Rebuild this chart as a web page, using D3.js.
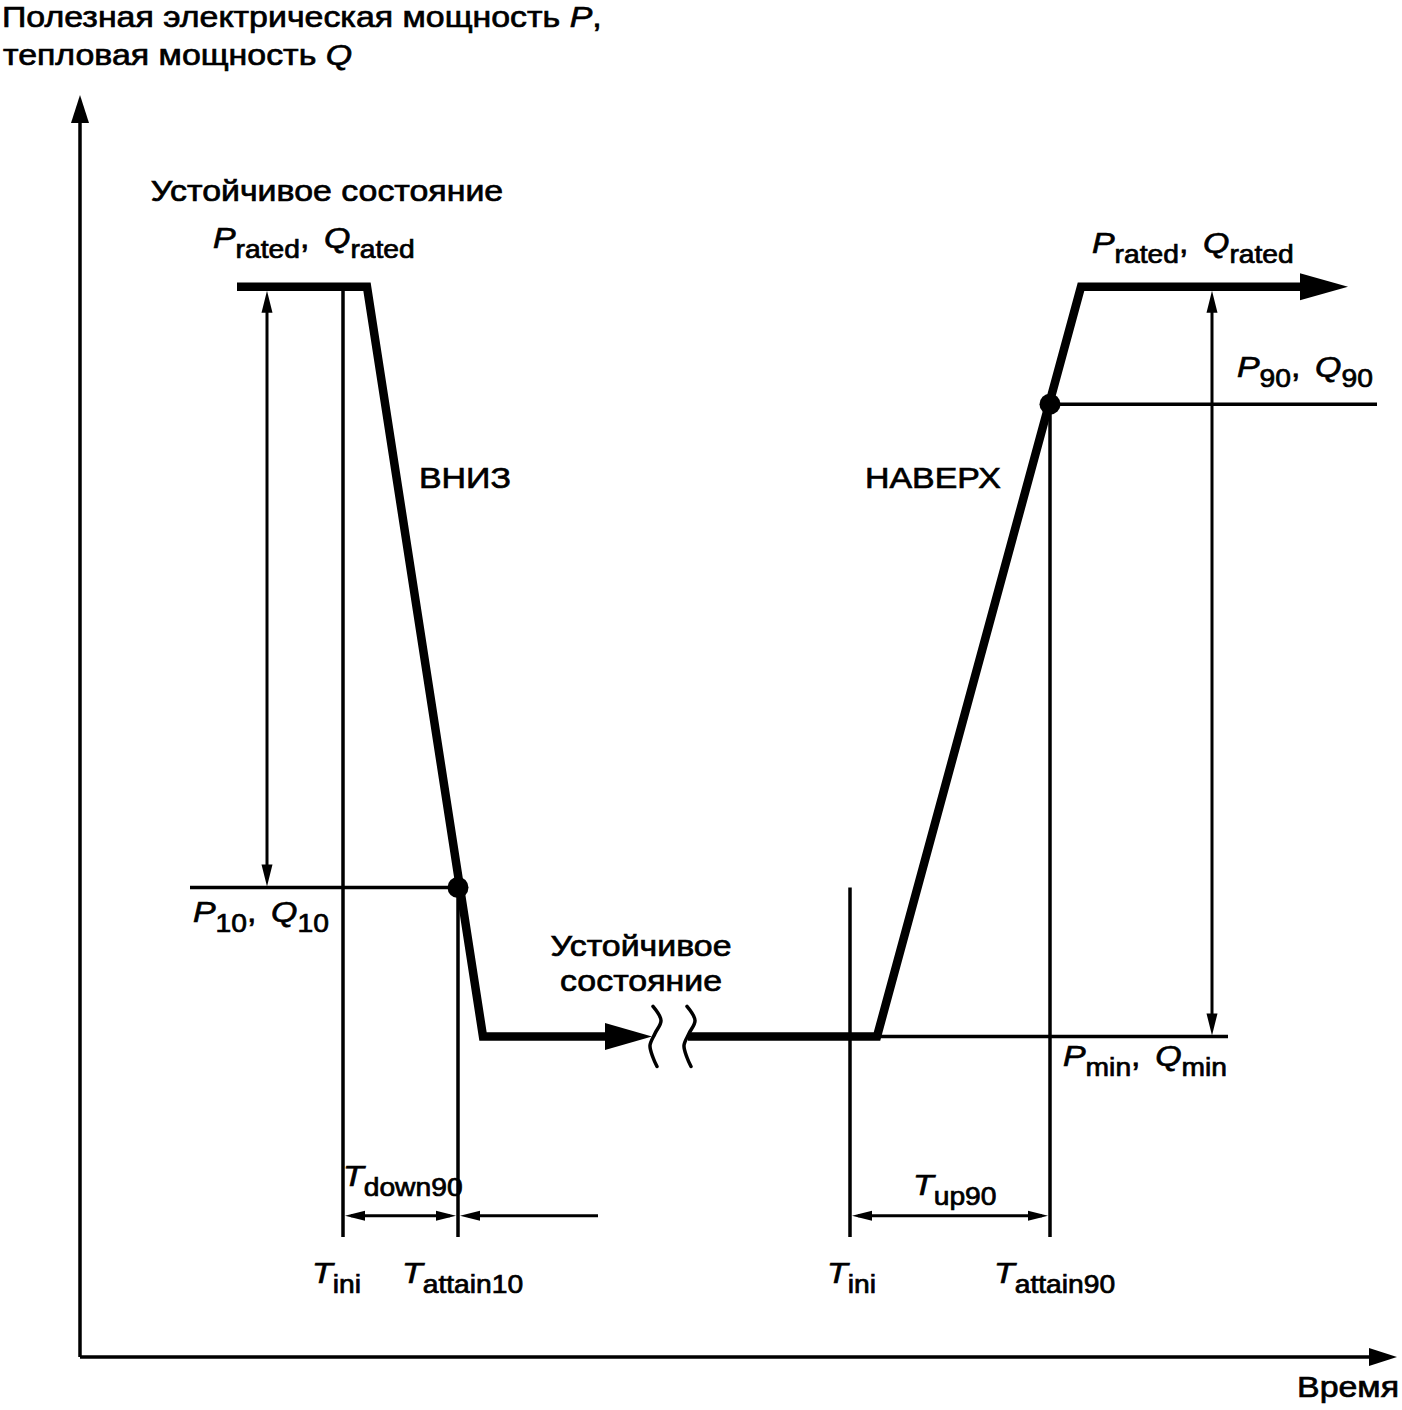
<!DOCTYPE html>
<html>
<head>
<meta charset="utf-8">
<script src="https://cdn.jsdelivr.net/npm/d3@7/dist/d3.min.js"></script>
<style>
body { margin: 0; background: #fff; }
text { font-family: "Liberation Sans", Arial, sans-serif; fill: #000; }
</style>
</head>
<body>
<script>
////////// data (schematic units) //////////
// power levels, in % of the vertical axis
var levelNames  = ['rated', 'p90', 'p10', 'min'];
var levelValues = [84.8, 75.5, 37.2, 25.4];

// time marks, in axis units
var markNames  = ['ini1', 'attain10', 'ini2', 'attain90'];
var markValues = [26.3, 37.8, 77.0, 97.0];

// thick profile: ramp down (before the break) and ramp up (after it)
var downTimes  = [15.7, 28.7, 40.3, 57.2];
var downLevels = ['rated', 'rated', 'min', 'min'];
var upTimes    = [60.8, 79.7, 100.1, 126.8];
var upLevels   = ['min', 'min', 'rated', 'rated'];

// break in the time axis
var breakTimes = [57.4, 60.8];

// extents of the helper lines
var p10LineStart = 11.0;
var p90LineEnd   = 129.7;
var minLineEnd   = 114.8;
var guideBottom  = 9.5;
var dimLevel     = 11.2;
var dimTail      = 51.8;
var arrowTimes   = [18.7, 113.2];

function lvl(n) { return levelValues[levelNames.indexOf(n)]; }
function mark(n) { return markValues[markNames.indexOf(n)]; }

////////// scales //////////
var x = d3.scaleLinear().domain([0, 131.7]).range([80, 1397]);
var y = d3.scaleLinear().domain([0, 100]).range([1357, 95]);

var svg = d3.select('body').append('svg')
  .attr('width', 1402)
  .attr('height', 1410);

svg.append('rect')
  .attr('width', 1402)
  .attr('height', 1410)
  .style('fill', '#fff');

var thin = 3.5;

function seg(x1, y1, x2, y2, w) {
  svg.append('line')
    .attr('x1', x1).attr('y1', y1)
    .attr('x2', x2).attr('y2', y2)
    .style('stroke', '#000')
    .style('stroke-width', w || thin);
}

// filled triangle with its tip at (tx,ty)
function head(tx, ty, dir, len, hw) {
  var p;
  if (dir == 'up')    p = [[tx, ty], [tx - hw, ty + len], [tx + hw, ty + len]];
  if (dir == 'down')  p = [[tx, ty], [tx - hw, ty - len], [tx + hw, ty - len]];
  if (dir == 'left')  p = [[tx, ty], [tx + len, ty - hw], [tx + len, ty + hw]];
  if (dir == 'right') p = [[tx, ty], [tx - len, ty - hw], [tx - len, ty + hw]];
  svg.append('path')
    .attr('d', 'M' + p.join('L') + 'Z')
    .style('fill', '#000');
}

////////// axes //////////
seg(x(0), y(0), x(0), y(100) + 20);
head(x(0), y(100), 'up', 28, 9);
seg(x(0), y(0), x(131.7) - 20, y(0));
head(x(131.7), y(0), 'right', 28, 9);

////////// helper lines //////////
// vertical time markers
seg(x(mark('ini1')), y(lvl('rated')), x(mark('ini1')), y(guideBottom));
seg(x(mark('attain10')), y(lvl('p10')), x(mark('attain10')), y(guideBottom));
seg(x(mark('ini2')), y(lvl('p10')), x(mark('ini2')), y(guideBottom));
seg(x(mark('attain90')), y(lvl('p90')), x(mark('attain90')), y(guideBottom));

// level lines
seg(x(p10LineStart), y(lvl('p10')), x(mark('attain10')), y(lvl('p10')));
seg(x(mark('attain90')), y(lvl('p90')), x(p90LineEnd), y(lvl('p90')));
seg(x(upTimes[1]), y(lvl('min')), x(minLineEnd), y(lvl('min')));

// vertical double arrows (range of the change)
[[arrowTimes[0], 'rated', 'p10'], [arrowTimes[1], 'rated', 'min']].forEach(function(a) {
  var xx = x(a[0]), y1 = y(lvl(a[1])) + 4, y2 = y(lvl(a[2])) - 1;
  seg(xx, y1 + 10, xx, y2 - 10, 3);
  head(xx, y1, 'up', 22, 5.5);
  head(xx, y2, 'down', 22, 5.5);
});

// time dimension lines
var dy = y(dimLevel);
function dim(a, b) {
  seg(x(a) + 8, dy, x(b) - 8, dy, 3);
  head(x(a) + 2, dy, 'left', 20, 5);
  head(x(b) - 2, dy, 'right', 20, 5);
}
dim(mark('ini1'), mark('attain10'));
dim(mark('ini2'), mark('attain90'));
seg(x(mark('attain10')) + 10, dy, x(dimTail), dy, 3);
head(x(mark('attain10')) + 2, dy, 'left', 20, 5);

////////// thick profile //////////
var line = d3.line()
  .x(function(d) { return x(d[0]); })
  .y(function(d) { return y(d[1]); });

function profile(times, levels, arrowLen) {
  var pts = times.map(function(t, i) { return [t, lvl(levels[i])]; });
  var last = pts[pts.length - 1];
  pts[pts.length - 1] = [x.invert(x(last[0]) - arrowLen + 4), last[1]];
  svg.append('path')
    .attr('d', line(pts))
    .style('fill', 'none')
    .style('stroke', '#000')
    .style('stroke-width', 8.5)
    .style('stroke-linejoin', 'miter');
  head(x(last[0]), y(last[1]), 'right', arrowLen, 13.5);
}
profile(downTimes, downLevels, 47);
profile(upTimes, upLevels, 48);

// break symbol
var wave = [[1, -30], [9, -16], [3, -3], [-2, 9], [1, 21], [5, 30]];
var waveLine = d3.line().curve(d3.curveCatmullRom);
breakTimes.forEach(function(t) {
  var cx = x(t) - 2, cy = y(lvl('min'));
  svg.append('path')
    .attr('d', waveLine(wave.map(function(d) { return [cx + d[0], cy + d[1]]; })))
    .style('fill', 'none')
    .style('stroke', '#000')
    .style('stroke-width', 3.5)
    .style('stroke-linecap', 'round');
});

// attained points
[['attain10', 'p10'], ['attain90', 'p90']].forEach(function(d) {
  svg.append('circle')
    .attr('cx', x(mark(d[0])))
    .attr('cy', y(lvl(d[1])))
    .attr('r', 10.5)
    .style('fill', '#000');
});

////////// texts //////////
var FS = 30, SUB = 25, SX = 1.13;

// parts: [text, kind]  kind: '' normal, 'i' italic, 's' subscript
function label(tx, ty, parts, anchor) {
  var t = svg.append('text')
    .attr('transform', 'translate(' + tx + ',' + ty + ') scale(' + SX + ',1)')
    .style('font-size', FS + 'px')
    .style('stroke', '#000')
    .style('stroke-width', 0.7)
    .attr('text-anchor', anchor || 'start');
  var down = false, gap = false;
  parts.forEach(function(p) {
    var s = t.append('tspan').text(p[0]);
    if (p[1] == 's') {
      s.style('font-size', SUB + 'px').attr('dy', down ? 0 : 10);
      down = true;
    } else {
      if (down) s.attr('dy', -10);
      down = false;
      if (p[1] == 'i') s.style('font-style', 'italic');
      if (gap) s.attr('dx', 13);
    }
    gap = p[0] == ',';
  });
  return t;
}

label(2, 27, [['Полезная электрическая мощность ', ''], ['P', 'i'], [',', '']]);
label(3, 65, [['тепловая мощность ', ''], ['Q', 'i']]);
label(327, 201, [['Устойчивое состояние', '']], 'middle');
label(213, 248, [['P', 'i'], ['rated', 's'], [',', ''], ['Q', 'i'], ['rated', 's']]);
label(419, 488, [['ВНИЗ', '']]);
label(865, 488, [['НАВЕРХ', '']]);
label(1092, 253, [['P', 'i'], ['rated', 's'], [',', ''], ['Q', 'i'], ['rated', 's']]);
label(1237, 377, [['P', 'i'], ['90', 's'], [',', ''], ['Q', 'i'], ['90', 's']]);
label(193, 922, [['P', 'i'], ['10', 's'], [',', ''], ['Q', 'i'], ['10', 's']]);
label(641, 956, [['Устойчивое', '']], 'middle');
label(641, 991, [['состояние', '']], 'middle');
label(1063, 1066, [['P', 'i'], ['min', 's'], [',', ''], ['Q', 'i'], ['min', 's']]);
label(343, 1186, [['T', 'i'], ['down90', 's']]);
label(913, 1195, [['T', 'i'], ['up90', 's']]);
label(312, 1283, [['T', 'i'], ['ini', 's']]);
label(402, 1283, [['T', 'i'], ['attain10', 's']]);
label(827, 1283, [['T', 'i'], ['ini', 's']]);
label(994, 1283, [['T', 'i'], ['attain90', 's']]);
label(1399, 1397, [['Время', '']], 'end');
</script>
</body>
</html>
